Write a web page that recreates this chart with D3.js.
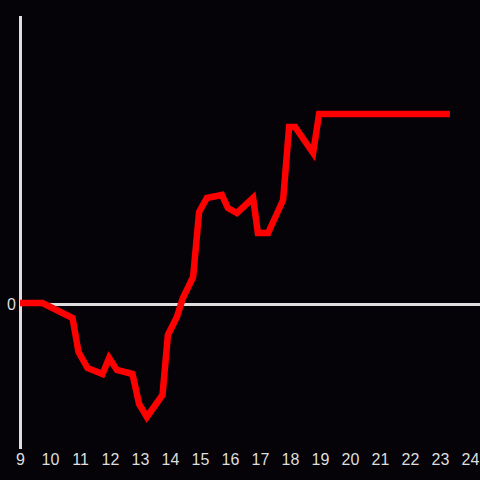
<!DOCTYPE html>
<html>
<head>
<meta charset="utf-8">
<script src="https://cdn.jsdelivr.net/npm/d3@7"></script>
<style>
  html, body { margin: 0; padding: 0; background: #050307; }
  svg { display: block; }
</style>
</head>
<body>
<div id="chart"></div>
<script>
// hours of the day (x) and running value (y)
var hours = [9.0, 9.75, 10.75, 10.95, 11.25, 11.75, 11.97, 12.23, 12.75, 12.97, 13.23,
             13.75, 13.93, 14.23, 14.43, 14.77, 14.97, 15.23, 15.73, 15.93, 16.23, 16.77,
             16.93, 17.27, 17.77, 17.97, 18.17, 18.77, 18.97, 23.33];
var values = [0, 0, -15, -49, -65, -71, -55, -67, -71, -101, -114,
              -92, -32, -14, 5, 26, 91, 105, 108, 95, 90, 105,
              70, 70, 103, 176, 176, 150, 189, 189];
var xTicks = [9, 10, 11, 12, 13, 14, 15, 16, 17, 18, 19, 20, 21, 22, 23, 24];
var yTicks = [0];

var width = 480;
var height = 480;

var svg = d3.select('#chart')
  .append('svg')
  .attr('width', width)
  .attr('height', height);

svg.append('rect')
  .attr('width', width)
  .attr('height', height)
  .attr('fill', '#050307');

// scales
var x = d3.scaleLinear().domain([9, 24]).range([20, 470]);
var y = d3.scaleLinear().domain([-145, 288]).range([448, 15]);

var axisColor = '#dedede';

// x labels only, no axis line
var xAxis = svg.append('g')
  .attr('transform', 'translate(0,448)')
  .call(d3.axisBottom(x).tickValues(xTicks).tickSize(0).tickPadding(6).tickFormat(d3.format('d')))
  .attr('font-size', 16)
  .attr('font-family', 'Liberation Sans, Arial, sans-serif');
xAxis.select('.domain').remove();
xAxis.selectAll('text').attr('fill', axisColor);

// y label
var yAxis = svg.append('g')
  .attr('transform', 'translate(17,1)')
  .call(d3.axisLeft(y).tickValues(yTicks).tickSize(0).tickPadding(1))
  .attr('font-size', 16)
  .attr('font-family', 'Liberation Sans, Arial, sans-serif');
yAxis.select('.domain').remove();
yAxis.selectAll('text').attr('fill', axisColor);

// vertical axis line
svg.append('line')
  .attr('x1', x(9) + 0.5).attr('x2', x(9) + 0.5)
  .attr('y1', y(288) + 1).attr('y2', y(-145) + 1)
  .attr('stroke', axisColor)
  .attr('stroke-width', 3);

// zero line
svg.append('line')
  .attr('x1', x(9)).attr('x2', width)
  .attr('y1', y(0) + 1.5).attr('y2', y(0) + 1.5)
  .attr('stroke', axisColor)
  .attr('stroke-width', 3);

// the red line
var line = d3.line()
  .x(function (d, i) { return x(hours[i]); })
  .y(function (d) { return y(d); });

svg.append('path')
  .datum(values)
  .attr('d', line)
  .attr('fill', 'none')
  .attr('stroke', '#ff0000')
  .attr('stroke-width', 6.5)
  .attr('stroke-linejoin', 'miter');
</script>
</body>
</html>
